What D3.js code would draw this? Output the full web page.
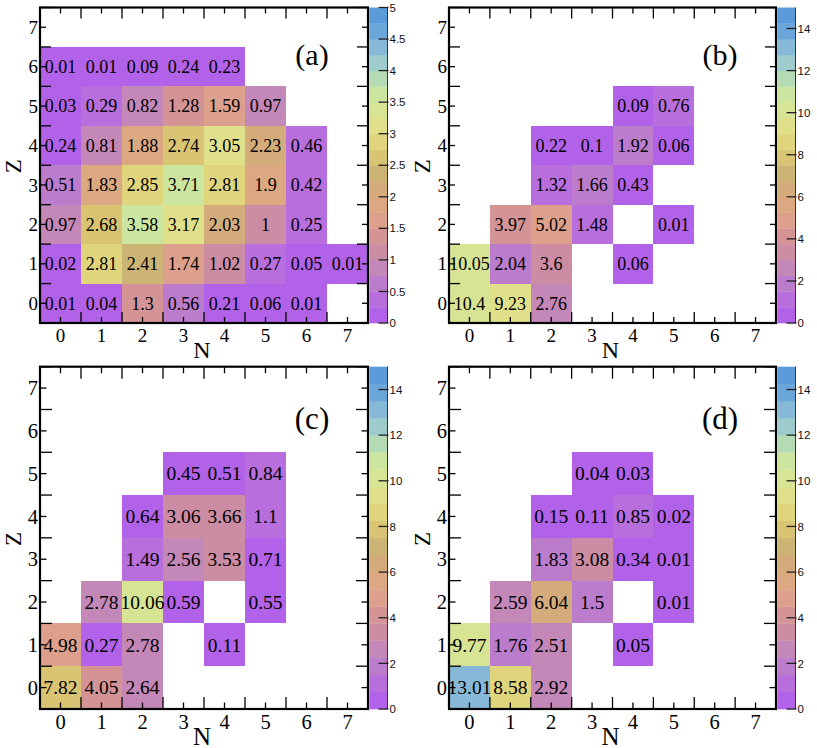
<!DOCTYPE html>
<html>
<head>
<meta charset="utf-8">
<script src="https://cdn.jsdelivr.net/npm/d3@7"></script>
<style>
  html, body { margin: 0; padding: 0; background: #fff; }
  svg { display: block; }
</style>
</head>
<body>
<svg id="chart" width="817" height="748"></svg>
<script>
// ---------------- DATA ----------------
const N_TICKS = [0, 1, 2, 3, 4, 5, 6, 7];
const Z_TICKS = [0, 1, 2, 3, 4, 5, 6, 7];
const PANEL_LABELS = ["(a)", "(b)", "(c)", "(d)"];

// rows indexed by Z (0 upward), columns by N (0..7); null = empty bin
const panelA = [
  [0.01, 0.04, 1.3, 0.56, 0.21, 0.06, 0.01, null],
  [0.02, 2.81, 2.41, 1.74, 1.02, 0.27, 0.05, 0.01],
  [0.97, 2.68, 3.58, 3.17, 2.03, 1, 0.25, null],
  [0.51, 1.83, 2.85, 3.71, 2.81, 1.9, 0.42, null],
  [0.24, 0.81, 1.88, 2.74, 3.05, 2.23, 0.46, null],
  [0.03, 0.29, 0.82, 1.28, 1.59, 0.97, null, null],
  [0.01, 0.01, 0.09, 0.24, 0.23, null, null, null]
];
const panelB = [
  [10.4, 9.23, 2.76, null, null, null, null, null],
  [10.05, 2.04, 3.6, null, 0.06, null, null, null],
  [null, 3.97, 5.02, 1.48, null, 0.01, null, null],
  [null, null, 1.32, 1.66, 0.43, null, null, null],
  [null, null, 0.22, 0.1, 1.92, 0.06, null, null],
  [null, null, null, null, 0.09, 0.76, null, null]
];
const panelC = [
  [7.82, 4.05, 2.64, null, null, null, null, null],
  [4.98, 0.27, 2.78, null, 0.11, null, null, null],
  [null, 2.78, 10.06, 0.59, null, 0.55, null, null],
  [null, null, 1.49, 2.56, 3.53, 0.71, null, null],
  [null, null, 0.64, 3.06, 3.66, 1.1, null, null],
  [null, null, null, 0.45, 0.51, 0.84, null, null]
];
const panelD = [
  [13.01, 8.58, 2.92, null, null, null, null, null],
  [9.77, 1.76, 2.51, null, 0.05, null, null, null],
  [null, 2.59, 6.04, 1.5, null, 0.01, null, null],
  [null, null, 1.83, 3.08, 0.34, 0.01, null, null],
  [null, null, 0.15, 0.11, 0.85, 0.02, null, null],
  [null, null, null, 0.04, 0.03, null, null, null]
];
const zMaxA = 5;
const zMaxOthers = 15;
const colorTicksA = [0, 0.5, 1, 1.5, 2, 2.5, 3, 3.5, 4, 4.5, 5];
const colorTicksOthers = [0, 2, 4, 6, 8, 10, 12, 14];

// 20-level palette, bottom (low) to top (high)
const PALETTE = [
  "#b262e8", "#b86edc", "#bc7ccc", "#c488b8", "#cc8ca4",
  "#d49496", "#dca08c", "#dca882", "#d4ac7c", "#ccb474",
  "#d8c472", "#e0d47c", "#e0e08a", "#d6e494", "#cce6a0",
  "#b4dbb4", "#9ecbcc", "#86b8d8", "#6aa6da", "#5b9bd9"
];

// ---------------- LAYOUT ----------------
const panels = [
  { data: panelA, zmax: zMaxA, cticks: colorTicksA, label: PANEL_LABELS[0],
    x0: 40, x1: 368, y0: 7.5, y1: 323, big: false },
  { data: panelB, zmax: zMaxOthers, cticks: colorTicksOthers, label: PANEL_LABELS[1],
    x0: 449, x1: 776, y0: 7.5, y1: 323, big: false },
  { data: panelC, zmax: zMaxOthers, cticks: colorTicksOthers, label: PANEL_LABELS[2],
    x0: 40, x1: 368, y0: 366.7, y1: 709, big: true },
  { data: panelD, zmax: zMaxOthers, cticks: colorTicksOthers, label: PANEL_LABELS[3],
    x0: 449, x1: 776, y0: 366.7, y1: 709, big: true }
];

const svg = d3.select("#chart");
const SERIF = "'Liberation Serif', 'Times New Roman', serif";
const SANS = "'Liberation Sans', Arial, sans-serif";

panels.forEach((p, idx) => {
  const g = svg.append("g");
  const x = d3.scaleLinear().domain([-0.5, 7.5]).range([p.x0, p.x1]);
  const y = d3.scaleLinear().domain([-0.5, 7.5]).range([p.y1, p.y0]);
  const color = d3.scaleQuantize().domain([0, p.zmax]).range(PALETTE);

  const cellFont = p.big ? 19.5 : 18;
  const tickFont = p.big ? 20.5 : 19;

  // cells
  const cells = [];
  p.data.forEach((row, zi) => row.forEach((v, ni) => {
    if (v !== null) cells.push({ n: N_TICKS[ni], z: Z_TICKS[zi], v });
  }));

  g.selectAll("rect.cell").data(cells).join("rect")
    .attr("class", "cell")
    .attr("x", d => x(d.n - 0.5))
    .attr("y", d => y(d.z + 0.5))
    .attr("width", d => x(d.n + 0.5) - x(d.n - 0.5))
    .attr("height", d => y(d.z - 0.5) - y(d.z + 0.5))
    .attr("fill", d => color(Math.min(d.v, p.zmax - 1e-9)))
    .attr("shape-rendering", "crispEdges");

  g.selectAll("text.val").data(cells).join("text")
    .attr("class", "val")
    .attr("x", d => x(d.n))
    .attr("y", d => y(d.z))
    .attr("dy", "0.35em")
    .attr("text-anchor", "middle")
    .attr("font-family", SERIF)
    .attr("font-size", cellFont)
    .attr("fill", "#000")
    .text(d => String(d.v));

  // ticks (major at bin edges, minor at bin centres), on all four sides
  const majors = d3.range(-0.5, 7.51, 1);
  const minors = N_TICKS;
  const majLen = p.big ? 12 : 11;
  const minLen = p.big ? 6.5 : 6;
  const tickG = g.append("g").attr("stroke", "#000").attr("stroke-width", 1.3);
  const addTicks = (vals, len) => {
    vals.forEach(v => {
      tickG.append("line").attr("x1", x(v)).attr("x2", x(v)).attr("y1", p.y1).attr("y2", p.y1 - len);
      tickG.append("line").attr("x1", x(v)).attr("x2", x(v)).attr("y1", p.y0).attr("y2", p.y0 + len);
      tickG.append("line").attr("y1", y(v)).attr("y2", y(v)).attr("x1", p.x0).attr("x2", p.x0 + len);
      tickG.append("line").attr("y1", y(v)).attr("y2", y(v)).attr("x1", p.x1).attr("x2", p.x1 - len);
    });
  };
  addTicks(majors, majLen);
  addTicks(minors, minLen);

  // frame
  g.append("rect")
    .attr("x", p.x0).attr("y", p.y0)
    .attr("width", p.x1 - p.x0).attr("height", p.y1 - p.y0)
    .attr("fill", "none").attr("stroke", "#000").attr("stroke-width", 2.2);

  // tick labels
  g.selectAll("text.xt").data(N_TICKS).join("text")
    .attr("class", "xt")
    .attr("x", d => x(d))
    .attr("y", p.y1 + (p.big ? 19.5 : 19))
    .attr("text-anchor", "middle")
    .attr("font-family", SERIF).attr("font-size", tickFont)
    .text(d => d);
  g.selectAll("text.yt").data(Z_TICKS).join("text")
    .attr("class", "yt")
    .attr("x", p.x0 - 2)
    .attr("y", d => y(d))
    .attr("dy", "0.35em")
    .attr("text-anchor", "end")
    .attr("font-family", SERIF).attr("font-size", tickFont)
    .text(d => d);

  // axis titles
  const midX = (p.x0 + p.x1) / 2;
  const midY = (p.y0 + p.y1) / 2;
  g.append("text")
    .attr("x", midX - 2)
    .attr("y", p.big ? 744.5 : 358)
    .attr("text-anchor", "middle")
    .attr("font-family", SERIF).attr("font-size", p.big ? 25 : 24)
    .text("N");
  g.append("text")
    .attr("transform", `translate(${p.x0 - 19},${midY + 1}) rotate(-90)`)
    .attr("text-anchor", "middle")
    .attr("font-family", SERIF).attr("font-size", 23)
    .text("Z");

  // panel label
  g.append("text")
    .attr("x", idx % 2 === 0 ? 312 : 720)
    .attr("y", p.big ? p.y0 + 62 : p.y0 + 57.5)
    .attr("text-anchor", "middle")
    .attr("font-family", SERIF).attr("font-size", p.big ? 31 : 30)
    .text(p.label);

  // colour bar
  const bx0 = p.x1 + 1.2, bx1 = p.x1 + 19.5;
  const cy = d3.scaleLinear().domain([0, p.zmax]).range([p.y1, p.y0]);
  const step = p.zmax / PALETTE.length;
  const bands = PALETTE.map((c, i) => ({ lo: i * step, hi: (i + 1) * step, c }));
  g.selectAll("rect.band").data(bands).join("rect")
    .attr("class", "band")
    .attr("x", bx0).attr("width", bx1 - bx0)
    .attr("y", d => cy(d.hi)).attr("height", d => cy(d.lo) - cy(d.hi) + 0.3)
    .attr("fill", d => d.c);
  g.append("line")
    .attr("x1", bx1).attr("x2", bx1).attr("y1", p.y0).attr("y2", p.y1)
    .attr("stroke", "#333").attr("stroke-width", 1);
  g.selectAll("line.ct").data(p.cticks).join("line")
    .attr("class", "ct")
    .attr("x1", bx1 - 9).attr("x2", bx1 + 1)
    .attr("y1", d => cy(d)).attr("y2", d => cy(d))
    .attr("stroke", "#222").attr("stroke-width", 1.3);
  g.selectAll("text.cl").data(p.cticks).join("text")
    .attr("class", "cl")
    .attr("x", bx1 + 2)
    .attr("y", d => cy(d))
    .attr("dy", "0.36em")
    .attr("font-family", SANS).attr("font-size", 11.5)
    .attr("fill", "#111")
    .text(d => d);
});
</script>
</body>
</html>
